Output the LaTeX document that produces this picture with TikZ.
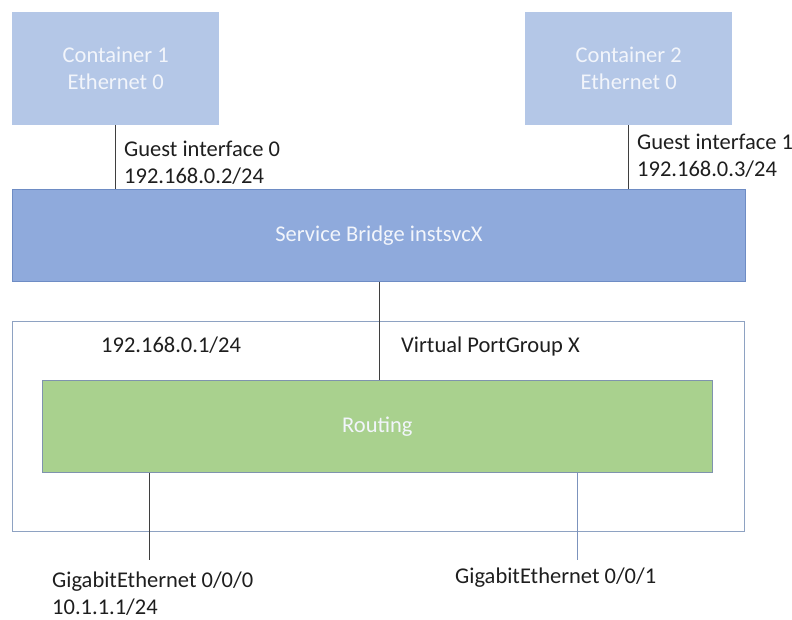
\documentclass[tikz,border=0pt]{standalone}
\usepackage{fontspec}
\setmainfont{Carlito}
\definecolor{contfill}{HTML}{B4C7E7}
\definecolor{bridgefill}{HTML}{8FAADC}
\definecolor{bridgeline}{HTML}{6E8CC4}
\definecolor{routefill}{HTML}{A9D18E}
\definecolor{routeline}{HTML}{7F93AE}
\definecolor{outerline}{HTML}{8EA2C2}
\definecolor{wirecol}{HTML}{3F3F3F}
\definecolor{wireblue}{HTML}{7C93BD}
\definecolor{labelcol}{HTML}{1E1E1E}
\definecolor{boxtext}{HTML}{F2F5FB}
\begin{document}
\begin{tikzpicture}[x=1pt,y=-1pt,
  every node/.style={font=\fontsize{22.5}{27}\selectfont, inner sep=0pt},
  contbox/.style={fill=contfill, draw=none, minimum width=207pt, minimum height=113pt, anchor=north west, align=center, text=boxtext},
  bridgebox/.style={fill=bridgefill, draw=bridgeline, line width=0.8pt, minimum width=733pt, minimum height=92pt, anchor=north west, text=boxtext},
  routebox/.style={fill=routefill, draw=routeline, line width=0.8pt, minimum width=670pt, minimum height=92pt, anchor=north west, text=boxtext},
  outerbox/.style={draw=outerline, line width=0.8pt, minimum width=732pt, minimum height=210pt, anchor=north west},
  wire/.style={draw=wirecol, line width=0.8pt},
  lbl/.style={anchor=base west, align=left, text=labelcol}
]
\useasboundingbox (0,0) rectangle (792,620);

\node[outerbox] (outer) at (12,321) {};
\node[contbox] (c1) at (12,12) {Container 1\\Ethernet 0};
\node[contbox] (c2) at (525,12) {Container 2\\Ethernet 0};
\node[bridgebox] (bridge) at (12,189) {Service Bridge instsvcX};
\node[routebox] (route) at (42,380) {Routing};

\coordinate (g0) at (149,560);
\coordinate (g1) at (577,560);

\draw[wire] (c1.south) -- (c1.south |- bridge.north);
\draw[wire] (c2.south) -- (c2.south |- bridge.north);
\draw[wire] (bridge.south) -- (bridge.south |- route.north);
\draw[wire] (g0 |- route.south) -- (g0);
\draw[wire, draw=wireblue] (g1 |- route.south) -- (g1);

\node[lbl] (l1) at (124,184) {Guest interface 0\\192.168.0.2/24};
\node[lbl] (l2) at (637,177) {Guest interface 1\\192.168.0.3/24};
\node[lbl] (l3) at (101,352) {192.168.0.1/24};
\node[lbl] (l4) at (401,352) {Virtual PortGroup X};
\node[lbl] (l5) at (52,614) {GigabitEthernet 0/0/0\\10.1.1.1/24};
\node[lbl] (l6) at (455,583) {GigabitEthernet 0/0/1};
\end{tikzpicture}
\end{document}
